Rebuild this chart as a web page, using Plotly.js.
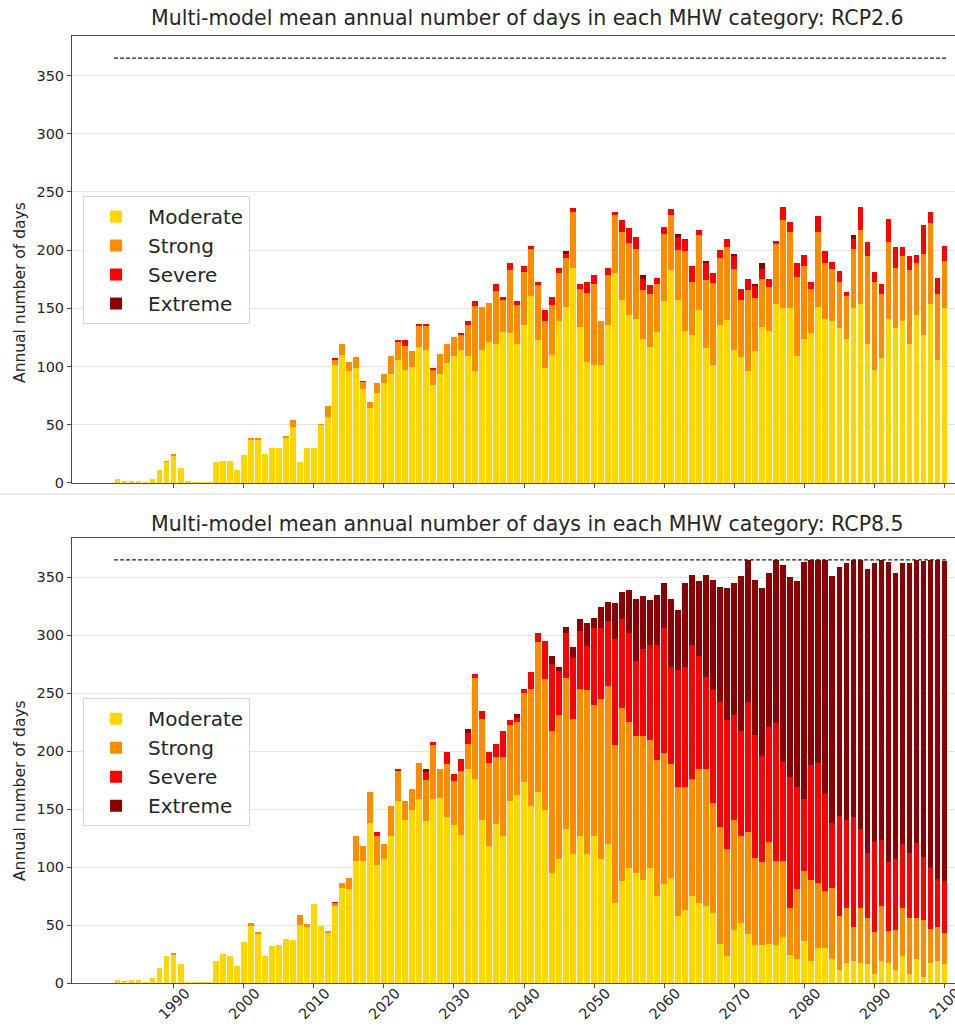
<!DOCTYPE html>
<html>
<head>
<meta charset="utf-8">
<script src="https://cdn.plot.ly/plotly-3.0.1.min.js"></script>
<style>
  html, body { margin: 0; padding: 0; background: #fff; overflow: hidden; }
</style>
</head>
<body>
<div id="chart" style="width:955px;height:1030px"></div>
<script>
// Years covered by the multi-model mean
const years = [
  1982, 1983, 1984, 1985, 1986, 1987, 1988, 1989,
  1990, 1991, 1992, 1993, 1994, 1995, 1996, 1997, 1998, 1999,
  2000, 2001, 2002, 2003, 2004, 2005, 2006, 2007, 2008, 2009,
  2010, 2011, 2012, 2013, 2014, 2015, 2016, 2017, 2018, 2019,
  2020, 2021, 2022, 2023, 2024, 2025, 2026, 2027, 2028, 2029,
  2030, 2031, 2032, 2033, 2034, 2035, 2036, 2037, 2038, 2039,
  2040, 2041, 2042, 2043, 2044, 2045, 2046, 2047, 2048, 2049,
  2050, 2051, 2052, 2053, 2054, 2055, 2056, 2057, 2058, 2059,
  2060, 2061, 2062, 2063, 2064, 2065, 2066, 2067, 2068, 2069,
  2070, 2071, 2072, 2073, 2074, 2075, 2076, 2077, 2078, 2079,
  2080, 2081, 2082, 2083, 2084, 2085, 2086, 2087, 2088, 2089,
  2090, 2091, 2092, 2093, 2094, 2095, 2096, 2097, 2098, 2099,
  2100
];

// ---- RCP2.6: annual days per MHW category ----
const rcp26Moderate = [
  3, 1.5, 2, 2, 0.5, 3, 11, 18,
  23, 13, 1.5, 1, 1, 1, 18, 19, 19, 11,
  24, 37, 37, 25, 30, 30, 39, 48, 18, 30,
  30, 50, 57, 101, 110, 96, 99, 81, 64, 77,
  86, 94, 106, 97, 100, 117, 114, 84, 94, 103,
  109, 114, 109, 96, 114, 121, 119, 130, 129, 119,
  136, 161, 123, 99, 110, 139, 151, 185, 134, 104,
  101, 101, 136, 180, 157, 144, 141, 124, 117, 130,
  156, 183, 157, 131, 127, 149, 116, 101, 136, 140,
  114, 108, 96, 113, 134, 131, 154, 150, 150, 109,
  124, 129, 151, 141, 139, 133, 124, 150, 154, 119,
  97, 107, 141, 133, 139, 119, 144, 127, 154, 106,
  150
];
const rcp26Strong = [
  0, 0, 0, 0, 0, 0, 0, 1,
  2, 0, 0, 0, 0, 0, 0, 0, 0, 0,
  0, 2, 2, 0, 0, 0, 1, 6, 0, 0,
  0, 1, 9, 5, 9, 8, 9, 6, 6, 9,
  8, 15, 15, 21, 13, 18, 21, 13, 17, 16,
  16, 13, 27, 56, 37, 34, 46, 27, 54, 34,
  45, 40, 47, 40, 43, 41, 42, 48, 33, 59,
  70, 38, 43, 50, 59, 62, 60, 42, 45, 41,
  58, 47, 43, 68, 46, 64, 58, 71, 57, 63,
  70, 49, 70, 46, 41, 37, 51, 76, 66, 68,
  62, 38, 65, 48, 45, 40, 37, 51, 63, 76,
  76, 55, 66, 52, 56, 64, 45, 70, 69, 56,
  41
];
const rcp26Severe = [
  0, 0, 0, 0, 0, 0, 0, 0,
  0, 0, 0, 0, 0, 0, 0, 0, 0, 0,
  0, 0, 0, 0, 0, 0, 0, 0, 0, 0,
  0, 0, 0, 1, 0, 0, 0, 1, 0, 0,
  0, 0, 2, 5, 0, 2, 2, 2, 0, 0,
  0, 2, 3, 4, 0, 0, 6, 3, 6, 3,
  5, 3, 3, 10, 7, 5, 4, 3, 4, 10,
  8, 0, 6, 3, 10, 13, 10, 9, 8, 5,
  6, 5, 11, 11, 13, 4, 15, 8, 7, 7,
  11, 10, 9, 10, 9, 7, 3, 11, 8, 12,
  10, 6, 13, 10, 6, 9, 3, 9, 20, 12,
  8, 9, 20, 18, 8, 12, 7, 25, 10, 14,
  13
];
const rcp26Extreme = [
  0, 0, 0, 0, 0, 0, 0, 0,
  0, 0, 0, 0, 0, 0, 0, 0, 0, 0,
  0, 0, 0, 0, 0, 0, 0, 0, 0, 0,
  0, 0, 0, 0, 0, 0, 0, 0, 0, 0,
  0, 0, 0, 0, 0, 0, 0, 0, 0, 0,
  0, 0, 0, 0, 0, 0, 0, 0, 0, 0,
  0, 0, 0, 0, 0, 0, 2, 0, 0, 0,
  0, 0, 0, 0, 0, 0, 0, 4, 0, 0,
  0, 0, 3, 0, 0, 0, 2, 0, 0, 0,
  2, 0, 0, 2, 5, 0, 0, 0, 0, 0,
  0, 0, 0, 0, 0, 0, 0, 3, 0, 0,
  0, 0, 0, 0, 0, 0, 0, 0, 0, 0,
  0
];

// ---- RCP8.5: annual days per MHW category ----
const rcp85Moderate = [
  3, 2, 2.5, 3, 1, 4, 13, 23,
  24, 16, 1, 1, 1, 1, 19, 25, 23, 15,
  35, 49, 42, 23, 32, 33, 38, 37, 50, 48,
  68, 49, 43, 66, 82, 81, 105, 105, 138, 102,
  107, 127, 157, 141, 149, 159, 140, 159, 160, 143,
  136, 128, 185, 176, 141, 118, 137, 127, 157, 162,
  173, 153, 165, 149, 95, 107, 133, 111, 127, 111,
  127, 107, 120, 69, 88, 99, 95, 89, 99, 75,
  85, 91, 58, 63, 75, 69, 66, 60, 34, 23,
  46, 52, 42, 33, 33, 34, 33, 40, 24, 21,
  36, 19, 30, 30, 21, 11, 17, 19, 17, 16,
  8, 19, 17, 11, 23, 8, 21, 5, 17, 19,
  16
];
const rcp85Strong = [
  0, 0, 0, 0, 0, 0, 0, 0,
  2, 0, 0, 0, 0, 0, 0, 0, 0, 0,
  0, 3, 2, 0, 0, 0, 0, 0, 9, 3,
  0, 0, 2, 3, 4, 10, 22, 13, 27, 25,
  13, 26, 26, 16, 18, 31, 35, 46, 25, 46,
  38, 55, 21, 87, 87, 72, 58, 68, 66, 63,
  77, 101, 129, 113, 122, 124, 130, 117, 127, 142,
  113, 138, 136, 136, 149, 126, 118, 124, 111, 117,
  113, 98, 111, 106, 101, 116, 119, 95, 101, 93,
  95, 75, 88, 75, 71, 88, 72, 65, 41, 60,
  61, 70, 56, 49, 61, 47, 48, 29, 48, 40,
  36, 47, 28, 35, 42, 48, 35, 49, 30, 29,
  27
];
const rcp85Severe = [
  0, 0, 0, 0, 0, 0, 0, 0,
  0, 0, 0, 0, 0, 0, 0, 0, 0, 0,
  0, 0, 0, 0, 0, 0, 0, 0, 0, 0,
  0, 0, 0, 1, 0, 0, 0, 0, 0, 3,
  0, 0, 2, 0, 0, 0, 7, 3, 0, 10,
  6, 10, 10, 4, 7, 9, 11, 22, 4, 4,
  4, 14, 8, 33, 58, 38, 39, 52, 50, 38,
  66, 61, 56, 92, 77, 77, 65, 75, 82, 100,
  108, 84, 101, 104, 116, 97, 79, 98, 107, 111,
  90, 90, 112, 106, 92, 99, 119, 86, 113, 88,
  62, 99, 104, 84, 56, 86, 76, 95, 68, 56,
  78, 57, 59, 61, 55, 56, 65, 55, 52, 42,
  45
];
const rcp85Extreme = [
  0, 0, 0, 0, 0, 0, 0, 0,
  0, 0, 0, 0, 0, 0, 0, 0, 0, 0,
  0, 0, 0, 0, 0, 0, 0, 0, 0, 0,
  0, 0, 0, 0, 0, 0, 0, 0, 0, 0,
  0, 0, 0, 0, 0, 0, 3, 0, 0, 0,
  0, 0, 3, 0, 0, 0, 0, 0, 0, 3,
  0, 0, 0, 0, 7, 4, 5, 10, 10, 20,
  9, 18, 17, 31, 23, 37, 53, 46, 38, 43,
  39, 58, 52, 72, 60, 65, 88, 95, 100, 114,
  114, 134, 123, 134, 145, 133, 141, 170, 172, 178,
  204, 177, 175, 202, 213, 215, 221, 222, 232, 245,
  240, 242, 259, 247, 242, 250, 244, 255, 266, 275,
  276
];

// Category names and axis ticks
const categories = ['Moderate', 'Strong', 'Severe', 'Extreme'];
const yTicks = [0, 50, 100, 150, 200, 250, 300, 350];
const xTicks = [1990, 2000, 2010, 2020, 2030, 2040, 2050, 2060, 2070, 2080, 2090, 2100];
const DAYS_IN_YEAR = 365;

const titles = [
  'Multi-model mean annual number of days in each MHW category: RCP2.6',
  'Multi-model mean annual number of days in each MHW category: RCP8.5'
];
const yLabel = 'Annual number of days';

const colors = ['#FFD700', '#FF8C00', '#FF0000', '#8B0000'];
const FONT = 'DejaVu Sans, sans-serif';
const TEXT = '#262626';

const scenarios = [
  { series: [rcp26Moderate, rcp26Strong, rcp26Severe, rcp26Extreme], xa: 'x', ya: 'y', legend: 'legend' },
  { series: [rcp85Moderate, rcp85Strong, rcp85Severe, rcp85Extreme], xa: 'x2', ya: 'y2', legend: 'legend2' }
];

const traces = [];
scenarios.forEach(sc => {
  sc.series.forEach((vals, i) => {
    traces.push({
      type: 'bar',
      x: years,
      y: vals,
      name: categories[i],
      xaxis: sc.xa,
      yaxis: sc.ya,
      legend: sc.legend,
      marker: { color: colors[i], line: { width: 0 } }
    });
  });
  // reference line: number of days in a year
  traces.push({
    type: 'scatter',
    mode: 'lines',
    x: [years[0] - 0.5, years[years.length - 1] + 0.5],
    y: [DAYS_IN_YEAR, DAYS_IN_YEAR],
    xaxis: sc.xa,
    yaxis: sc.ya,
    showlegend: false,
    hoverinfo: 'skip',
    line: { color: '#222', width: 1.2, dash: '4px,2px' }
  });
});

const frame = {
  showline: true, mirror: true, linecolor: '#4d4d4d', linewidth: 1,
  zeroline: false, ticks: 'outside', ticklen: 4, tickcolor: '#4d4d4d'
};

function xAxis(anchor, labels) {
  return Object.assign({}, frame, {
    anchor: anchor,
    range: [1975.5, 2101.5],
    tickvals: xTicks,
    showgrid: false,
    showticklabels: labels,
    tickangle: -45,
    ticklabelshift: 12,
    ticklabelstandoff: -9,
    ticklabeloverflow: 'allow',
    tickfont: { family: FONT, size: 14.5, color: TEXT }
  });
}
function yAxis(anchor, domain) {
  return Object.assign({}, frame, {
    anchor: anchor,
    domain: domain,
    range: [0, 384],
    tickvals: yTicks,
    showgrid: true,
    gridcolor: '#e4e4e4',
    gridwidth: 1,
    tickfont: { family: FONT, size: 14.5, color: TEXT }
  });
}

const legendStyle = {
  xanchor: 'left', yanchor: 'top', x: 0.0125,
  bgcolor: 'rgba(255,255,255,0.85)', bordercolor: '#d6d6d6', borderwidth: 1,
  font: { family: FONT, size: 20, color: TEXT },
  traceorder: 'normal', itemwidth: 54
};

function label(text, x, y, size, angle) {
  return {
    text: text, xref: 'paper', yref: 'paper', x: x, y: y,
    xanchor: 'center', yanchor: 'middle', showarrow: false,
    textangle: angle || 0,
    font: { family: FONT, size: size, color: TEXT }
  };
}

const layout = {
  width: 955, height: 1030,
  margin: { l: 72, r: 0, t: 36, b: 47 },
  paper_bgcolor: '#fff', plot_bgcolor: '#fff',
  barmode: 'stack', bargap: 0.18,
  font: { family: FONT, size: 14, color: TEXT },
  showlegend: true,
  xaxis: xAxis('y', false),
  yaxis: yAxis('x', [0.528, 1]),
  xaxis2: xAxis('y2', true),
  yaxis2: yAxis('x2', [0, 0.47]),
  legend: Object.assign({}, legendStyle, { y: 0.831 }),
  legend2: Object.assign({}, legendStyle, { y: 0.3008 }),
  annotations: [
    label(titles[0], 0.516, 1.019, 20.5),
    label(titles[1], 0.516, 0.4847, 20.5),
    label(yLabel, -0.0589, 0.7297, 15.5, -90),
    label(yLabel, -0.0589, 0.2038, 15.5, -90)
  ],
  shapes: [
    // thin divider between the two panels
    { type: 'line', xref: 'paper', yref: 'paper', x0: -0.0815, x1: 1, y0: 0.5164, y1: 0.5164,
      line: { color: '#d9d9d9', width: 1 } }
  ]
};

Plotly.newPlot('chart', traces, layout, { displayModeBar: false, staticPlot: true });
</script>
</body>
</html>
